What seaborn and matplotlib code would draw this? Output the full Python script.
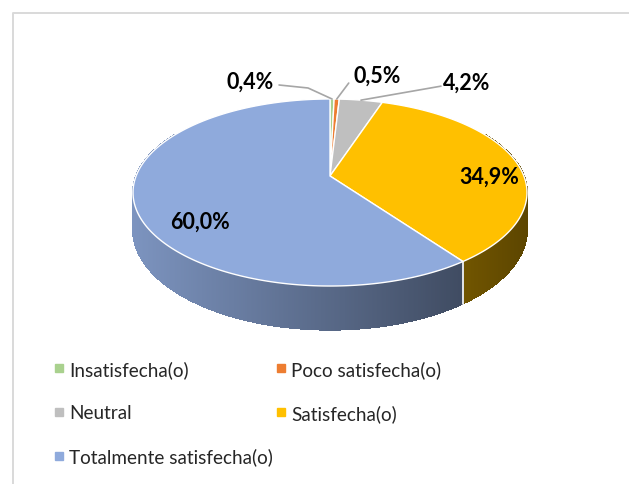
import numpy as np
import matplotlib
matplotlib.use("Agg")
import matplotlib.pyplot as plt
import seaborn as sns
from matplotlib.collections import PolyCollection
from matplotlib.lines import Line2D
from matplotlib.patches import Polygon

categories = ["Insatisfecha(o)", "Poco satisfecha(o)", "Neutral", "Satisfecha(o)", "Totalmente satisfecha(o)"]
values = [0.4, 0.5, 4.2, 34.9, 60.0]
value_labels = ["0,4%", "0,5%", "4,2%", "34,9%", "60,0%"]
colors = ["#A9D18E", "#ED7D31", "#BFBFBF", "#FFC000", "#8FAADC"]

sns.set_theme(style="white")
plt.rcParams["font.family"] = ["Lato", "DejaVu Sans"]
palette = sns.color_palette(colors)

# pie geometry (pixels), simple perspective: vertex, radii, depth factor, thickness
cx, cy = 330.0, 177.0
bx, ay, kp, th = 193.9, 90.6, 0.1765, 36.0


def rim(theta, r=1.0):
    # theta in degrees, clockwise from 12 o'clock
    t = np.radians(theta)
    d = 1 + kp * r * np.cos(t)
    return cx + bx * r * np.sin(t) / d, cy - ay * r * np.cos(t) / d


def drop(theta):
    return th / (1 + kp * np.cos(np.radians(theta)))


fig = plt.figure(figsize=(6.29, 4.85), dpi=100)
ax = fig.add_axes([0, 0, 1, 1])
ax.set_xlim(0, 629)
ax.set_ylim(485, 0)
ax.axis("off")

# chart border (cropped on the right and bottom)
ax.plot([12.5, 12.5, 640], [490, 13.5, 13.5], color="#D9D9D9", lw=1.4, zorder=0)

fracs = np.array(values) / sum(values) * 360
ends = np.cumsum(fracs)
starts = ends - fracs

# side walls as thin strips, shaded left->right
quads, qcols, keys = [], [], []
for s, e, c in zip(starts, ends, palette):
    lo, hi = max(s, 60), min(e, 300)
    if hi <= lo:
        continue
    ts = np.linspace(lo, hi, max(int((hi - lo) * 3), 2) + 1)
    for t0, t1 in zip(ts[:-1], ts[1:]):
        x0, y0 = rim(t0)
        x1, y1 = rim(t1)
        quads.append([(x0, y0), (x1, y1), (x1, y1 + drop(t1)), (x0, y0 + drop(t0))])
        xm = (x0 + x1) / 2
        f = 0.87 - 0.51 * np.clip((xm - 133) / (527 - 133), 0, 1)
        qcols.append(tuple(np.array(c) * f))
        keys.append(np.cos(np.radians((t0 + t1) / 2)))
order = np.argsort(keys)[::-1]
side = PolyCollection([quads[i] for i in order], facecolors=[qcols[i] for i in order],
                      edgecolors=[qcols[i] for i in order], linewidths=0.6,
                      antialiaseds=False, zorder=2)
ax.add_collection(side)

# white seam on the side at slice boundaries facing the viewer
for b in ends[:-1]:
    if 90 < b < 270:
        bx0, by0 = rim(b)
        ax.plot([bx0, bx0], [by0, by0 + drop(b)], color="white", lw=1.2, zorder=3)

# top face
for s, e, c in zip(starts, ends, palette):
    ts = np.linspace(s, e, max(int((e - s) * 2), 2) + 1)
    xs, ys = rim(ts)
    pts = [(cx, cy)] + list(zip(xs, ys))
    ax.add_patch(Polygon(pts, closed=True, facecolor=c, edgecolor="white", lw=1.0, zorder=4))

mids = starts + fracs / 2

# outside labels with leader lines for the small slices
lead_col = "#A6A6A6"
out_text = {0: (-82, -18), 1: (40, -24), 2: (106, -18)}
out_knee = {0: (-24, -11), 1: (12, -16), 2: (80, -14)}
for i, (dx, dy) in out_text.items():
    px, py = rim(mids[i])
    kx, ky = out_knee[i]
    tx, ty = px + dx, py + dy
    end_x = tx + 29 if dx < 0 else tx - 26
    if i == 1:
        ax.plot([px, px + kx], [py, py + ky], color=lead_col, lw=1.2, zorder=5)
    else:
        ax.plot([px, px + kx, end_x], [py, py + ky, ty + 4], color=lead_col, lw=1.2, zorder=5)
    ax.text(tx, ty, value_labels[i], ha="center", va="center", fontsize=15.5,
            fontweight="bold", color="black", zorder=6)

# inside labels
in_pos = {3: (0.85, 12), 4: (0.68, 25)}
for i, (r, dy) in in_pos.items():
    px, py = rim(mids[i], r)
    ax.text(px, py + dy, value_labels[i], ha="center", va="center", fontsize=15.5,
            fontweight="bold", color="black", zorder=6)

# legend, filled row by row like the original
leg_order = [0, 2, 4, 1, 3]
handles = [Line2D([], [], marker="s", linestyle="none", markersize=5.5,
                  markerfacecolor=palette[i], markeredgecolor=palette[i]) for i in leg_order]
fig.legend(handles, [categories[i] for i in leg_order], ncol=2, loc="upper left",
           bbox_to_anchor=(0.086, 0.256), frameon=False, fontsize=13.6,
           handlelength=0.5, handletextpad=0.28, labelspacing=1.4, columnspacing=0.2,
           borderpad=0, borderaxespad=0)

fig.savefig("out.png", dpi=100, facecolor="white")
